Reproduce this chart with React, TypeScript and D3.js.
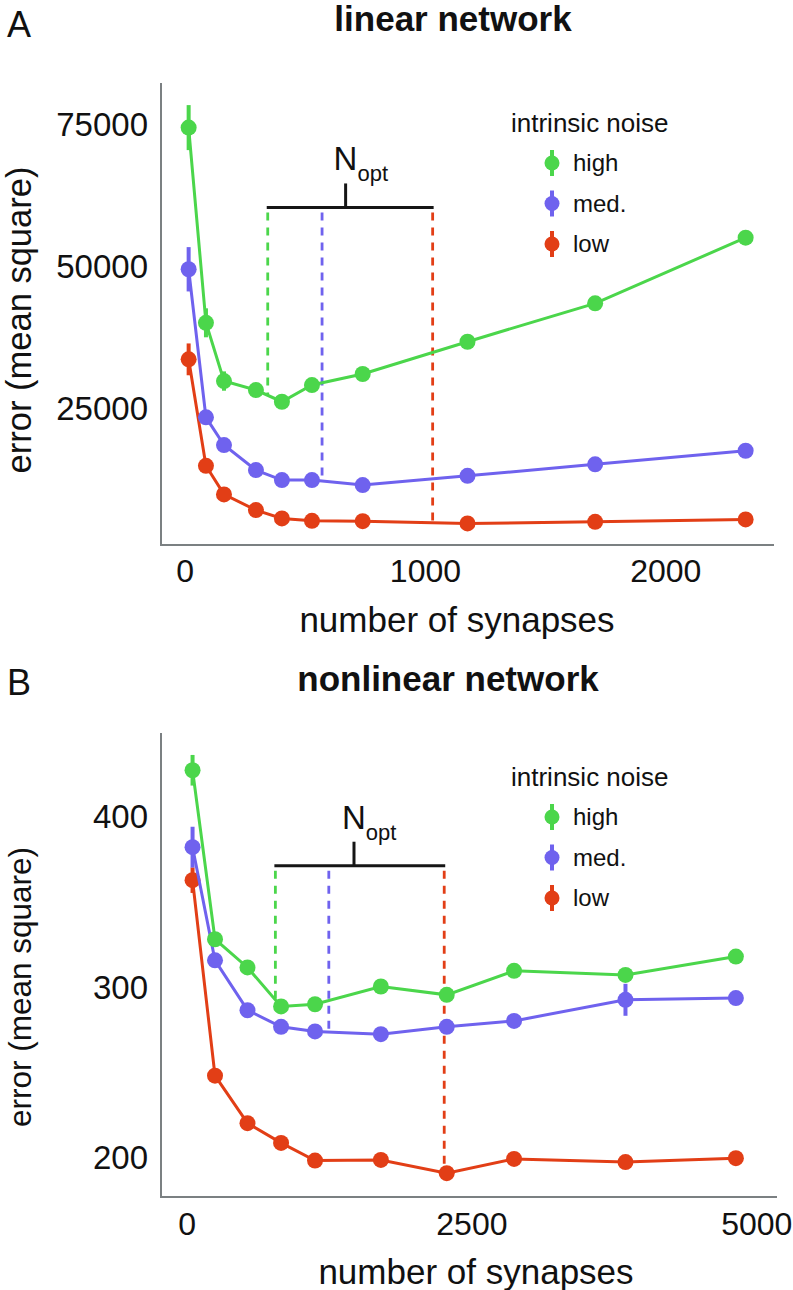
import React from "react";
import * as d3 from "d3";

// ---------- data ----------
const seriesNames = ["high", "med.", "low"];
const seriesColors = ["#4BD64B", "#6F62EE", "#E23E16"];

// Panel A: linear network
const linX = [15, 87, 162, 295, 403, 528, 739, 1175, 1706, 2332];
const linHigh = [74350, 40000, 29750, 28170, 26110, 29050, 30990, 36670, 43430, 54980];
const linMed = [49420, 23360, 18490, 14080, 12320, 12320, 11440, 13080, 15090, 17480];
const linLow = [33570, 14840, 9800, 7040, 5580, 5160, 5100, 4700, 4980, 5400];
const linHighErr = [3960, 2550, 1700, 600, 400, 400, 300, 300, 300, 300];
const linMedErr = [3900, 600, 400, 300, 300, 300, 300, 300, 300, 300];
const linLowErr = [2800, 600, 400, 300, 300, 300, 300, 300, 300, 300];
const linXTicks = [0, 1000, 2000];
const linYTicks = [25000, 50000, 75000];
const linNopt = [344, 570, 1030];
const linBracketY = 60300;
const linBracketMid = 668;
const linXDomain = [-100, 2450];
const linYDomain = [900, 82200];

// Panel B: nonlinear network
const nlX = [48, 245, 530, 825, 1123, 1701, 2279, 2870, 3848, 4817];
const nlHigh = [427.2, 327.9, 311.3, 288.4, 289.7, 300.1, 295.2, 309.3, 306.9, 317.7];
const nlMed = [382.0, 315.5, 286.2, 276.4, 273.7, 272.1, 276.4, 279.9, 292.3, 293.3];
const nlLow = [362.6, 247.7, 219.8, 208.2, 197.8, 198.2, 190.4, 198.8, 196.9, 199.2];
const nlHighErr = [9, 2, 2, 1.5, 1.5, 1.5, 1.5, 1.5, 2, 1.5];
const nlMedErr = [12, 2, 1.5, 1.5, 1.5, 1.5, 1.5, 1.5, 9.4, 1.5];
const nlLowErr = [7.5, 2, 1.5, 1.5, 1.5, 1.5, 1.5, 1.5, 1.5, 1.5];
const nlXTicks = [0, 2500, 5000];
const nlYTicks = [200, 300, 400];
const nlNopt = [775, 1244, 2257];
const nlBracketY = 371.1;
const nlBracketMid = 1465;
const nlXDomain = [-229, 5178];
const nlYDomain = [176.4, 449.1];

// ---------- layout ----------
const FONT = "'Liberation Sans', Arial, Helvetica, sans-serif";
const W = 793;
const H = 1290;

const panels = [
  {
    letter: "A", letterY: 37,
    title: "linear network", titleX: 453, titleY: 31,
    left: 161, right: 774, top: 83, bottom: 545,
    xDomain: linXDomain, yDomain: linYDomain,
    xs: linX, ys: [linHigh, linMed, linLow], errs: [linHighErr, linMedErr, linLowErr],
    xTicks: linXTicks, yTicks: linYTicks,
    nopt: linNopt, bracketY: linBracketY, bracketMid: linBracketMid,
    ylabelY: 320, ylabelSize: 34.5,
    xlabelX: 457, xlabelY: 632,
    xTickY: 582,
    legendY: 132,
  },
  {
    letter: "B", letterY: 695,
    title: "nonlinear network", titleX: 448, titleY: 691,
    left: 161, right: 777, top: 733, bottom: 1197,
    xDomain: nlXDomain, yDomain: nlYDomain,
    xs: nlX, ys: [nlHigh, nlMed, nlLow], errs: [nlHighErr, nlMedErr, nlLowErr],
    xTicks: nlXTicks, yTicks: nlYTicks,
    nopt: nlNopt, bracketY: nlBracketY, bracketMid: nlBracketMid,
    ylabelY: 987, ylabelSize: 31.5,
    xlabelX: 476, xlabelY: 1284,
    xTickY: 1235,
    legendY: 786,
  },
];

function interp(xs: number[], ys: number[], xv: number) {
  const i = Math.max(1, Math.min(xs.length - 1, d3.bisectRight(xs, xv)));
  const x0 = xs[i - 1], x1 = xs[i];
  const t = (xv - x0) / (x1 - x0);
  return ys[i - 1] + t * (ys[i] - ys[i - 1]);
}

function Panel({ p }: { p: any }) {
  const x = d3.scaleLinear().domain(p.xDomain).range([p.left, p.right]);
  const y = d3.scaleLinear().domain(p.yDomain).range([p.bottom, p.top]);
  const line = d3
    .line<[number, number]>()
    .x((d) => x(d[0]))
    .y((d) => y(d[1]));
  const order = [2, 1, 0];
  const by = y(p.bracketY);
  const mid = x(p.bracketMid);
  return (
    <g>
      <text x={7} y={p.letterY} fontSize={36} fontFamily={FONT} fill="#111">
        {p.letter}
      </text>
      <text x={p.titleX} y={p.titleY} fontSize={35} fontWeight="bold" fontFamily={FONT} textAnchor="middle" fill="#111">
        {p.title}
      </text>
      {/* axes */}
      <line x1={p.left} x2={p.left} y1={p.top} y2={p.bottom + 1} stroke="#7b8082" strokeWidth={2} />
      <line x1={p.left - 1} x2={p.right} y1={p.bottom} y2={p.bottom} stroke="#7b8082" strokeWidth={2} />
      {p.yTicks.map((t: number) => (
        <text key={"y" + t} x={148} y={y(t)} dy="0.36em" fontSize={33} fontFamily={FONT} textAnchor="end" fill="#111">
          {t}
        </text>
      ))}
      {p.xTicks.map((t: number) => (
        <text key={"x" + t} x={x(t)} y={p.xTickY} fontSize={32} fontFamily={FONT} textAnchor="middle" fill="#111">
          {t}
        </text>
      ))}
      <text
        transform={`translate(31,${p.ylabelY}) rotate(-90)`}
        fontSize={p.ylabelSize}
        fontFamily={FONT}
        textAnchor="middle"
        fill="#111"
      >
        error (mean square)
      </text>
      <text x={p.xlabelX} y={p.xlabelY} fontSize={35} fontFamily={FONT} textAnchor="middle" fill="#111">
        number of synapses
      </text>

      {/* N_opt dashed lines */}
      {p.nopt.map((n: number, i: number) => (
        <line
          key={"d" + i}
          x1={x(n)}
          x2={x(n)}
          y1={by + 5}
          y2={y(interp(p.xs, p.ys[i], n))}
          stroke={seriesColors[i]}
          strokeWidth={2.8}
          strokeDasharray="8,7"
        />
      ))}
      {/* bracket */}
      <line x1={x(p.nopt[0]) - 1} x2={x(p.nopt[2]) + 1} y1={by} y2={by} stroke="#161616" strokeWidth={3} />
      <line x1={mid} x2={mid} y1={by} y2={by - 24} stroke="#161616" strokeWidth={3} />
      <text x={mid - 12} y={by - 37} fontSize={33} fontFamily={FONT} fill="#111">
        N
        <tspan fontSize={22} dy={11}>opt</tspan>
      </text>

      {/* series */}
      {order.map((si) => {
        const pts: [number, number][] = p.xs.map((xv: number, j: number) => [xv, p.ys[si][j]]);
        return (
          <g key={"s" + si}>
            <path d={line(pts) || ""} fill="none" stroke={seriesColors[si]} strokeWidth={3} />
            {pts.map((d, j) => (
              <line
                key={"e" + j}
                x1={x(d[0])}
                x2={x(d[0])}
                y1={y(d[1] - p.errs[si][j])}
                y2={y(d[1] + p.errs[si][j])}
                stroke={seriesColors[si]}
                strokeWidth={4}
              />
            ))}
            {pts.map((d, j) => (
              <circle key={"c" + j} cx={x(d[0])} cy={y(d[1])} r={8} fill={seriesColors[si]} />
            ))}
          </g>
        );
      })}

      {/* legend */}
      <text x={511} y={p.legendY} fontSize={26} fontFamily={FONT} fill="#111">
        intrinsic noise
      </text>
      {seriesNames.map((name, i) => {
        const cy = p.legendY + 31 + i * 40.5;
        return (
          <g key={"l" + i}>
            <line x1={552} x2={552} y1={cy - 13} y2={cy + 13} stroke={seriesColors[i]} strokeWidth={4} />
            <circle cx={552} cy={cy} r={7.5} fill={seriesColors[i]} />
            <text x={573} y={cy + 8} fontSize={24} fontFamily={FONT} fill="#111">
              {name}
            </text>
          </g>
        );
      })}
    </g>
  );
}

export default function App() {
  return (
    <svg
      width={W}
      height={H}
      viewBox={`0 0 ${W} ${H}`}
      style={{ position: "absolute", left: 0, top: 0, display: "block", background: "#fff" }}
    >
      <rect x={0} y={0} width={W} height={H} fill="#fff" />
      {panels.map((p) => (
        <Panel key={p.letter} p={p} />
      ))}
    </svg>
  );
}
